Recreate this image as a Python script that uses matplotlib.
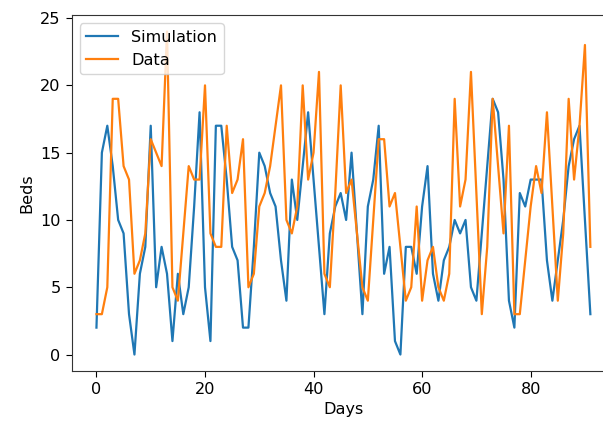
import matplotlib
matplotlib.use('Agg')
import matplotlib.pyplot as plt
import numpy as np

# daily bed counts, day 0 to day 91
days = np.arange(92)
simulation = [2, 15, 17, 14, 10, 9, 3, 0, 6, 8, 17, 5, 8, 6, 1, 6, 3, 5, 11, 18,
              5, 1, 17, 17, 13, 8, 7, 2, 2, 8, 15, 14, 12, 11, 7, 4, 13, 10, 14, 18,
              13, 8, 3, 9, 11, 12, 10, 15, 9, 3, 11, 13, 17, 6, 8, 1, 0, 8, 8, 6,
              11, 14, 6, 4, 7, 8, 10, 9, 10, 5, 4, 9, 14, 19, 18, 13, 4, 2, 12, 11,
              13, 13, 13, 7, 4, 7, 10, 14, 16, 17, 10, 3]
data = [3, 3, 5, 19, 19, 14, 13, 6, 7, 9, 16, 15, 14, 24, 5, 4, 9, 14, 13, 13,
        20, 9, 8, 8, 17, 12, 13, 16, 5, 6, 11, 12, 14, 17, 20, 10, 9, 11, 20, 13,
        15, 21, 6, 5, 12, 20, 12, 13, 9, 5, 4, 10, 16, 16, 11, 12, 8, 4, 5, 11,
        4, 7, 8, 5, 4, 6, 19, 11, 13, 21, 12, 3, 8, 19, 14, 9, 17, 3, 3, 7,
        11, 14, 12, 18, 11, 4, 9, 19, 13, 17, 23, 8]

plt.rcParams['font.size'] = 11.6
plt.rcParams['xtick.major.size'] = 4.5
plt.rcParams['ytick.major.size'] = 4.5
plt.rcParams['axes.edgecolor'] = '#333333'


def plot_beds():
    fig = plt.figure(figsize=(6.03, 4.21), dpi=100)
    # right spine sits just past the edge of the picture
    ax = fig.add_axes([0.119, 0.1195, 0.901, 0.844])
    ax.plot(days, simulation, label='Simulation', linewidth=1.6)
    ax.plot(days, data, label='Data', linewidth=1.6)
    ax.set_xlabel('Days')
    ax.set_ylabel('Beds')
    ax.legend(loc='upper left')
    fig.savefig('out.png', dpi=100)


def main():
    plot_beds()


if __name__ == '__main__':
    main()
